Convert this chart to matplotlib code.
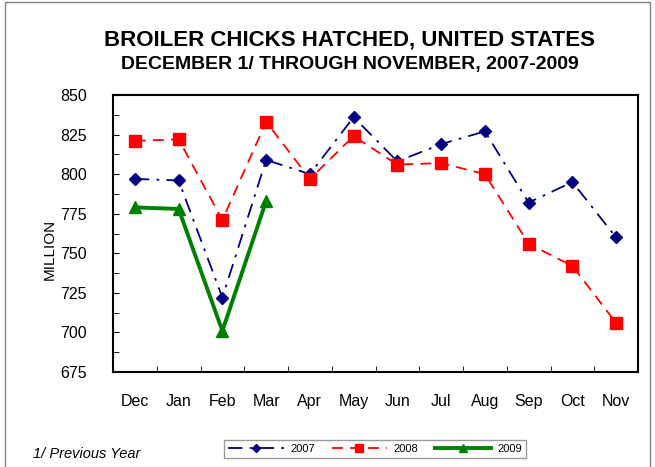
import matplotlib.pyplot as plt
from matplotlib.patches import Rectangle

plt.rcParams['font.family'] = ['Liberation Sans', 'DejaVu Sans']

months = ['Dec', 'Jan', 'Feb', 'Mar', 'Apr', 'May', 'Jun', 'Jul', 'Aug', 'Sep', 'Oct', 'Nov']
y2007 = [797, 796, 722, 809, 800, 836, 808, 819, 827, 782, 795, 760]
y2008 = [821, 822, 771, 833, 797, 824, 806, 807, 800, 756, 742, 706]
y2009 = [779, 778, 701, 783]
yticks = [675, 700, 725, 750, 775, 800, 825, 850]

fig = plt.figure(figsize=(6.55, 4.67), dpi=100)
ax = fig.add_axes([113 / 655, 1 - 372 / 467, 525 / 655, 277 / 467])

x = list(range(len(months)))
ax.plot(x, y2007, color='#000080', linestyle=(0, (8, 4, 1.5, 4)), lw=1.3,
        marker='D', markersize=6, label='2007')
ax.plot(x, y2008, color='#ff0000', linestyle=(0, (6, 4)), lw=1.3,
        marker='s', markersize=8, label='2008')
ax.plot(x[:len(y2009)], y2009, color='#008000', linestyle='-', lw=2.8,
        marker='^', markersize=9, label='2009')

ax.set_xlim(-0.5, 11.5)
ax.set_ylim(675, 850)
ax.set_yticks(yticks)
ax.set_yticks([v + 12.5 for v in yticks[:-1]], minor=True)
ax.set_xticks(x)
ax.set_xticklabels(months)
ax.set_xticks([i + 0.5 for i in x[:-1]], minor=True)
ax.tick_params(axis='x', which='major', length=0, pad=16, labelsize=11.5)
ax.tick_params(axis='x', which='minor', direction='in', length=4)
ax.tick_params(axis='y', which='both', direction='in', length=4, pad=19, labelsize=11.5)
for s in ax.spines.values():
    s.set_linewidth(1.5)
ax.set_ylabel('MILLION', fontsize=11)
ax.yaxis.set_label_coords(-56 / 525, 0.444)

fig.text(0.534, 1 - 40 / 467, 'BROILER CHICKS HATCHED, UNITED STATES',
         ha='center', va='center', fontsize=16, fontweight='bold')
fig.text(0.534, 1 - 64 / 467, 'DECEMBER 1/ THROUGH NOVEMBER, 2007-2009',
         ha='center', va='center', fontsize=14, fontweight='bold')
fig.text(33 / 655, 1 - 454 / 467, '1/ Previous Year', fontsize=10.5,
         style='italic', va='center')

leg = fig.legend(loc='center', bbox_to_anchor=(375 / 655, 1 - 449 / 467),
                 ncol=3, fontsize=8, frameon=True, fancybox=False,
                 handlelength=5.0, columnspacing=1.5, handletextpad=0.6,
                 borderpad=0.35, markerscale=0.65)
leg.get_frame().set_edgecolor('#808080')
leg.get_frame().set_linewidth(1)

fig.patches.append(Rectangle((5 / 655, -0.01), 645 / 655, 1 - 2 / 467 + 0.01,
                             transform=fig.transFigure, fill=False,
                             edgecolor='#808080', lw=1))

fig.savefig('out.png', dpi=100)
